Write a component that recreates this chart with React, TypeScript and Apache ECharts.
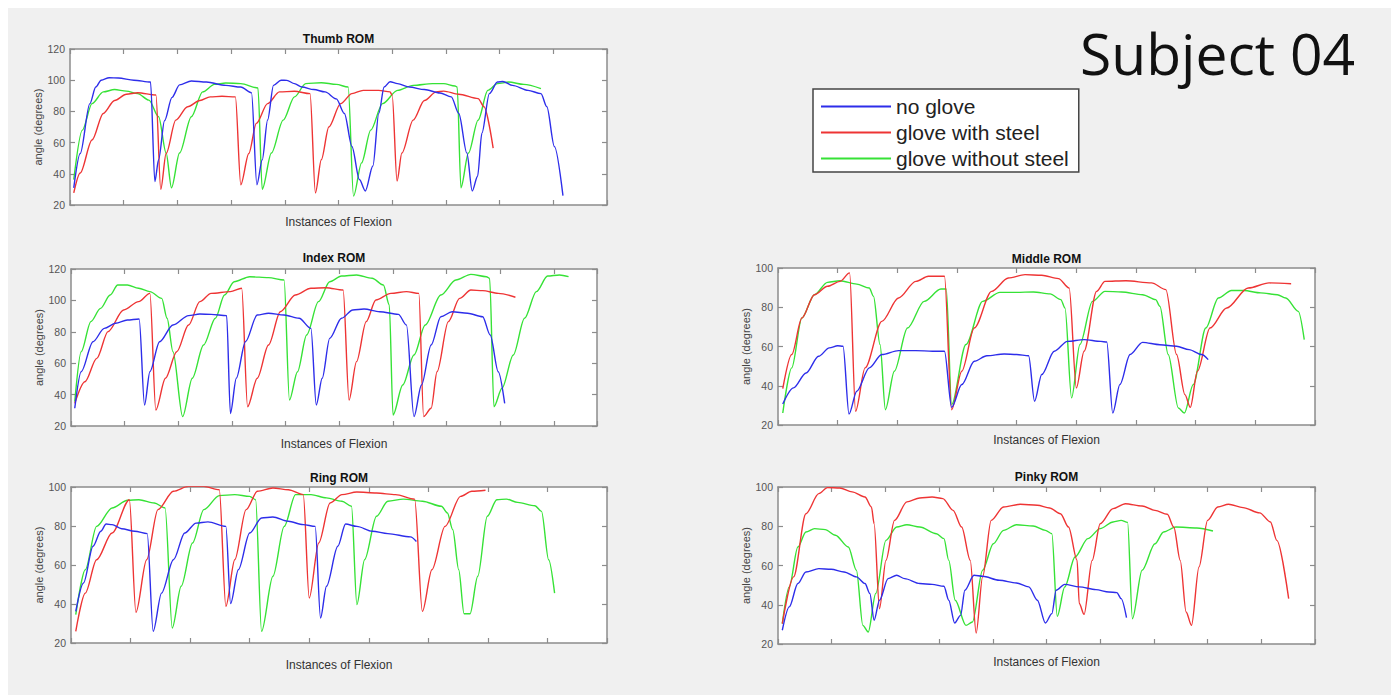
import React, { useEffect, useRef } from "react";
import * as echarts from "echarts";

// ---------- data (x = instance position, y = angle in degrees) ----------
const seriesNames = ["no glove", "glove with steel", "glove without steel"];
const seriesColors = ["#2d2dea", "#ee3434", "#36e236"];

const thumbNoGlove: number[][] = [[0.07,31],[0.19,53],[0.37,85],[0.48,95.6],[0.58,100],[0.73,101.6],[0.9,101.4],[1.19,100],[1.5,98.8],[1.58,35],[1.65,49],[1.76,74],[1.9,89],[2.04,97],[2.26,99.5],[2.54,98.8],[2.9,96.7],[3.18,95.6],[3.38,92],[3.48,33],[3.58,49],[3.68,74.5],[3.79,96.7],[3.93,100],[4.04,99.9],[4.18,97.8],[4.32,95.6],[4.54,94],[4.75,92.5],[4.96,88],[5.11,78.7],[5.25,57.5],[5.39,36.3],[5.5,29],[5.64,45],[5.75,78.7],[5.85,95.6],[5.96,99],[6.1,97.8],[6.32,95.6],[6.6,94],[6.89,91.8],[7.1,89.3],[7.24,78.7],[7.39,53.3],[7.49,29],[7.59,38.4],[7.67,66],[7.81,91.4],[7.96,98.8],[8.06,99.2],[8.24,96.7],[8.53,93.5],[8.77,91.4],[8.88,83],[9.02,57.5],[9.18,26]];
const thumbWithSteel: number[][] = [[0.07,27.8],[0.19,40.5],[0.41,61.7],[0.62,78.7],[0.83,87],[1.05,91],[1.26,92],[1.6,90.5],[1.69,30],[1.79,53],[1.97,74.4],[2.19,83],[2.42,87],[2.61,89.3],[2.83,89.7],[3.08,89.3],[3.18,33],[3.33,53],[3.47,72.3],[3.68,85],[3.9,92.5],[4.18,92.9],[4.47,91.4],[4.57,27.8],[4.68,49],[4.82,70],[5.04,85],[5.25,91.4],[5.46,93.5],[5.75,93.5],[5.96,92.5],[6.0,90.3],[6.09,35.3],[6.18,53.3],[6.39,74.4],[6.6,87],[6.82,92.5],[6.96,93],[7.24,91],[7.6,88.2],[7.71,83],[7.88,56.4]];
const thumbWithoutSteel: number[][] = [[0.07,36.3],[0.23,68],[0.41,85],[0.62,92.5],[0.83,94],[1.05,93],[1.26,91.4],[1.47,87.2],[1.65,76.6],[1.79,53.3],[1.89,31],[2.04,53.3],[2.26,76.6],[2.47,92.5],[2.69,97.3],[2.9,98.2],[3.18,97.8],[3.5,95],[3.58,30],[3.75,53.3],[3.97,74.4],[4.18,89.3],[4.39,97.8],[4.68,98.4],[4.96,97.3],[5.18,95.6],[5.28,25.7],[5.43,47],[5.6,68],[5.82,85],[6.1,93.5],[6.39,96.7],[6.75,97.8],[6.96,97.8],[7.17,96.3],[7.21,95.6],[7.28,31],[7.42,53.3],[7.6,74.4],[7.78,93.5],[7.96,97.8],[8.17,98.8],[8.45,97.3],[8.77,94.6]];

const indexNoGlove: number[][] = [[0.07,31.3],[0.19,54.6],[0.41,73.7],[0.62,82.2],[0.83,85.4],[1.05,87.5],[1.27,88.2],[1.37,33.4],[1.47,54.6],[1.65,73.7],[1.9,84.3],[2.19,90.3],[2.4,91.3],[2.61,91.1],[2.9,90.3],[2.97,28],[3.08,50.4],[3.25,73.7],[3.47,90.7],[3.68,91.8],[3.97,90.7],[4.25,88.6],[4.47,82.2],[4.57,33.4],[4.68,50.4],[4.82,75.8],[5.04,88.6],[5.25,93.9],[5.46,94.5],[5.75,92.8],[6.1,91.1],[6.25,84.3],[6.39,26],[6.53,46.1],[6.71,71.6],[6.89,89.6],[7.1,92.8],[7.39,91.8],[7.67,89.6],[7.81,78],[7.96,54.6],[8.08,34.4]];
const indexWithSteel: number[][] = [[0.07,34.4],[0.26,48.2],[0.48,63.1],[0.69,80.1],[0.98,93.9],[1.26,99.2],[1.47,104.5],[1.58,30.2],[1.76,50.4],[1.97,67.3],[2.19,84.3],[2.4,99.2],[2.61,104.5],[2.97,105.6],[3.18,107.7],[3.29,32.3],[3.47,50.4],[3.68,71.6],[3.9,92.8],[4.18,103.4],[4.47,107.7],[4.75,108.1],[5.07,106.6],[5.18,36.6],[5.32,61],[5.5,86.5],[5.68,100.3],[5.96,104.5],[6.25,105.6],[6.48,104.5],[6.57,26],[6.71,31.3],[6.82,54.6],[7.03,86.5],[7.24,101.3],[7.45,106.6],[7.67,106.2],[7.96,104.5],[8.28,102]];
const indexWithoutSteel: number[][] = [[0.07,35.5],[0.19,67.3],[0.37,86.5],[0.55,94.9],[0.73,103.4],[0.87,109.8],[1.05,109.8],[1.26,107.7],[1.47,105.6],[1.69,101.3],[1.79,88.6],[1.9,67.3],[2.08,26],[2.26,50.4],[2.47,71.6],[2.69,88.6],[2.86,103.4],[3.04,111.9],[3.33,115.1],[3.68,114.5],[3.97,113],[4.07,36.6],[4.22,54.6],[4.39,78],[4.61,99.2],[4.82,111.9],[5.04,115.5],[5.32,116.2],[5.61,114.1],[5.82,109.8],[5.93,97.1],[6.0,27],[6.18,46.1],[6.39,65.2],[6.6,84.3],[6.89,103.4],[7.17,113],[7.45,116.6],[7.74,115.1],[7.8,114],[7.88,32.3],[8.03,44],[8.24,65.2],[8.45,88.6],[8.67,105.6],[8.88,115.5],[9.1,116.2],[9.27,115.1]];

const middleNoGlove: number[][] = [[0.08,30.7],[0.26,38.9],[0.47,46.5],[0.68,55],[0.86,59.3],[1.0,60.4],[1.09,60.1],[1.19,25.6],[1.32,37.2],[1.53,49.1],[1.74,55.9],[2.02,57.9],[2.31,57.9],[2.59,57.6],[2.79,57.6],[2.91,29],[3.08,40.6],[3.29,52.5],[3.5,55.3],[3.79,56.2],[4.0,55.9],[4.2,55.3],[4.3,32.1],[4.42,45.7],[4.63,57.6],[4.85,62.6],[5.13,63.5],[5.41,62.6],[5.51,62.3],[5.61,26.1],[5.73,40.6],[5.9,55.9],[6.11,62.1],[6.4,60.9],[6.68,60.1],[6.89,58.4],[7.1,55.9],[7.21,53.3]];
const middleWithSteel: number[][] = [[0.08,38.5],[0.23,55.9],[0.4,74.5],[0.61,86.4],[0.83,90.7],[1.04,93.2],[1.2,97.5],[1.3,27],[1.46,49.1],[1.74,72.8],[2.02,84.7],[2.31,93.2],[2.52,95.8],[2.79,95.8],[2.91,27.8],[3.08,47.4],[3.29,69.4],[3.58,88.1],[3.86,94.9],[4.14,96.6],[4.42,96.3],[4.7,94.6],[4.88,89.8],[5.0,38.9],[5.13,57.6],[5.34,88.1],[5.48,93.2],[5.83,93.5],[6.26,92.4],[6.5,89],[6.68,55.9],[6.82,35.5],[6.91,29],[7.03,47.4],[7.24,69.4],[7.52,79.6],[7.88,89.8],[8.23,92.4],[8.6,92]];
const middleWithoutSteel: number[][] = [[0.08,26.1],[0.23,49.1],[0.4,74.5],[0.61,86.4],[0.83,92.7],[1.04,93.5],[1.32,91.8],[1.53,89.8],[1.6,85.6],[1.71,61],[1.8,27.8],[1.95,47.4],[2.17,69.4],[2.45,83],[2.73,89.3],[2.82,89.3],[2.91,30.4],[3.15,61],[3.43,83],[3.72,87.6],[4.0,87.6],[4.28,87.8],[4.56,86.8],[4.74,83.9],[4.81,79.6],[4.92,33.8],[5.06,61],[5.27,83],[5.48,88.1],[5.76,87.8],[6.11,86.4],[6.33,83.9],[6.4,80.5],[6.54,55.9],[6.71,28.7],[6.81,26.1],[6.96,40.6],[7.17,69.4],[7.38,84.7],[7.6,88.5],[7.81,88.5],[8.09,87.3],[8.37,86.4],[8.51,84.7],[8.72,77.9],[8.82,63.5]];

const ringNoGlove: number[][] = [[0.08,36.2],[0.21,50.8],[0.37,69.6],[0.5,77.3],[0.59,81],[0.69,80.7],[0.85,78.6],[1.07,77.3],[1.28,76.1],[1.38,26],[1.52,45.6],[1.72,62.7],[1.91,76.4],[2.1,81.5],[2.3,82.1],[2.6,79.8],[2.68,40.2],[2.81,57.6],[3.0,76.4],[3.2,84.1],[3.39,84.6],[3.65,82.4],[3.9,80.7],[4.1,79.8],[4.19,32.8],[4.29,49.1],[4.48,69.6],[4.61,81],[4.8,79.8],[5.06,77.3],[5.32,76.1],[5.7,74.4],[5.8,72.1]];
const ringWithSteel: number[][] = [[0.08,26],[0.24,45.6],[0.43,62.7],[0.69,76.4],[0.98,93.5],[1.09,35.7],[1.27,62.7],[1.46,88.4],[1.72,97.8],[1.97,100.3],[2.23,100.3],[2.49,98.6],[2.6,38.8],[2.75,62.7],[2.94,88.4],[3.13,97.8],[3.39,99.5],[3.65,98.6],[3.9,96.1],[4.0,43.1],[4.16,71.3],[4.35,91.8],[4.55,96.1],[4.8,97.4],[5.13,96.9],[5.45,96.1],[5.77,93.8],[5.9,36.2],[6.06,57.6],[6.28,79.8],[6.54,95.2],[6.73,97.8],[6.96,98.3]];
const ringWithoutSteel: number[][] = [[0.08,34.5],[0.24,57.6],[0.43,79.8],[0.69,89.2],[0.95,93.2],[1.14,93.5],[1.4,91.8],[1.58,89.2],[1.7,27.7],[1.85,49.1],[2.04,71.3],[2.23,88.4],[2.49,95.6],[2.75,96.1],[3.0,95.2],[3.1,93.5],[3.2,26],[3.39,54.2],[3.58,79.8],[3.77,96.1],[4.03,96.1],[4.29,94.4],[4.55,92.7],[4.71,90.1],[4.8,39.7],[4.93,62.7],[5.13,85],[5.32,92.7],[5.58,93.8],[5.9,92.7],[6.22,90.1],[6.32,86.7],[6.41,78.1],[6.51,57.6],[6.6,35],[6.7,35],[6.83,54.2],[6.99,85],[7.15,93.5],[7.31,93.8],[7.5,92.1],[7.79,90.4],[7.9,87.5],[8.02,62.7],[8.12,45.6]];

const pinkyNoGlove: number[][] = [[0.08,27],[0.21,38.9],[0.37,50.8],[0.52,56.7],[0.76,58.4],[0.99,58.1],[1.23,56.7],[1.46,54.2],[1.62,50.8],[1.71,45.7],[1.79,32.1],[1.89,42.3],[2.05,53.3],[2.21,55],[2.36,53.3],[2.64,50.8],[2.87,50.4],[3.09,49.4],[3.18,42.3],[3.29,30.7],[3.4,34.6],[3.48,47.4],[3.65,55],[3.81,54.5],[4.12,52.5],[4.44,51.1],[4.67,49.1],[4.83,42.3],[4.98,30.7],[5.1,35.5],[5.18,47.4],[5.34,50.4],[5.61,49.1],[5.92,47.7],[6.16,46.5],[6.31,46.2],[6.39,43.1],[6.49,33.4]];
const pinkyWithSteel: number[][] = [[0.08,30.4],[0.29,54.2],[0.52,86.4],[0.76,96.6],[0.92,99.7],[1.15,99.5],[1.38,97.5],[1.62,94.9],[1.74,89.8],[1.79,81.3],[1.89,38],[2.01,62.6],[2.17,83],[2.4,92.4],[2.64,94.4],[2.87,94.9],[3.07,94.1],[3.26,88.1],[3.42,79.6],[3.58,62.6],[3.69,25.6],[3.81,54.2],[3.97,83],[4.2,89.8],[4.51,91.2],[4.83,90.7],[5.06,89.3],[5.26,86.4],[5.41,79.6],[5.57,62.6],[5.61,40.6],[5.7,35.1],[5.85,62.6],[6.0,81.3],[6.24,89],[6.47,91.5],[6.78,90.3],[7.02,88.1],[7.25,86.1],[7.37,79.6],[7.49,62.6],[7.6,36.3],[7.7,29.5],[7.84,59.3],[8.0,83],[8.19,89.8],[8.39,91.2],[8.66,89.5],[8.97,86.8],[9.17,82.2],[9.29,72.8],[9.51,43.1]];
const pinkyWithoutSteel: number[][] = [[0.08,30.4],[0.21,49.1],[0.37,69.4],[0.52,77.1],[0.68,78.8],[0.88,78.3],[1.07,75.4],[1.31,69.4],[1.46,57.6],[1.58,29.5],[1.68,26.1],[1.82,45.7],[2.01,72.8],[2.21,79.6],[2.4,80.8],[2.64,79.6],[2.95,76.2],[3.09,73.7],[3.18,62.6],[3.3,42.3],[3.5,29.5],[3.62,31.2],[3.81,57.6],[4.01,71.1],[4.2,77.9],[4.44,80.8],[4.75,80.1],[4.98,77.9],[5.1,76.2],[5.2,34.1],[5.34,49.1],[5.53,64.3],[5.77,73.7],[6.0,78.8],[6.24,82.2],[6.39,83],[6.51,82],[6.6,32.9],[6.78,57.6],[7.02,71.1],[7.18,77.1],[7.41,79.6],[7.8,79.1],[8.1,77.6]];

const titles = ["Thumb ROM", "Index ROM", "Middle ROM", "Ring ROM", "Pinky ROM"];
const xMaxes = [10, 9.8, 9, 9, 10];
const yMaxes = [120, 120, 100, 100, 100];
const yTicks = [20, 40, 60, 80, 100, 120];
const xLabel = "Instances of Flexion";
const yLabel = "angle (degrees)";
const headline = "Subject 04";

const panelData = [
  [thumbNoGlove, thumbWithSteel, thumbWithoutSteel],
  [indexNoGlove, indexWithSteel, indexWithoutSteel],
  [middleNoGlove, middleWithSteel, middleWithoutSteel],
  [ringNoGlove, ringWithSteel, ringWithoutSteel],
  [pinkyNoGlove, pinkyWithSteel, pinkyWithoutSteel],
];

// ---------- layout ----------
const grids = [
  { left: 62, top: 41, width: 537, height: 156 },
  { left: 63, top: 261, width: 526, height: 157 },
  { left: 770, top: 260, width: 537, height: 157 },
  { left: 63, top: 479, width: 536, height: 156 },
  { left: 770, top: 479, width: 537, height: 157 },
];
const titleY = [31, 250, 251, 470, 469];
const xNameGaps = [11, 12, 9, 16, 12];

const FONT = "Liberation Sans, Arial, Helvetica, sans-serif";
const frame = "#8c8c8c";
const legendLineIcon = "path://M0,0H70V2H0Z";

export default function App() {
  const ref = useRef<HTMLDivElement>(null);
  useEffect(() => {
    if (!ref.current) return;
    const chart = echarts.init(ref.current, undefined, { renderer: "svg" });

    const xAxis: any[] = [];
    const yAxis: any[] = [];
    const series: any[] = [];
    const graphic: any[] = [];

    grids.forEach((g, i) => {
      const common = {
        gridIndex: i,
        type: "value",
        min: 0,
        max: xMaxes[i],
        interval: 1,
        axisLine: { show: true, onZero: false, lineStyle: { color: frame, width: 1.5 } },
        axisTick: { show: true, inside: true, length: 5, lineStyle: { color: frame, width: 1.2 } },
        axisLabel: { show: false },
        splitLine: { show: false },
      };
      xAxis.push({
        ...common,
        position: "bottom",
        name: xLabel,
        nameLocation: "middle",
        nameGap: xNameGaps[i],
        nameTextStyle: { fontFamily: FONT, fontSize: 12, color: "#333" },
      });
      xAxis.push({ ...common, position: "top" });
      const ycommon = {
        gridIndex: i,
        type: "value",
        min: 20,
        max: yMaxes[i],
        interval: 20,
        axisLine: { show: true, onZero: false, lineStyle: { color: frame, width: 1.5 } },
        axisTick: { show: true, inside: true, length: 5, lineStyle: { color: frame, width: 1.2 } },
        splitLine: { show: false },
      };
      yAxis.push({
        ...ycommon,
        position: "left",
        axisLabel: {
          show: true,
          margin: 5,
          fontFamily: FONT,
          fontSize: 10.5,
          color: "#555",
          formatter: (v: number) => (yTicks.includes(v) ? String(v) : ""),
        },
        name: yLabel,
        nameLocation: "middle",
        nameRotate: 90,
        nameGap: 27,
        nameTextStyle: { fontFamily: FONT, fontSize: 11, color: "#444" },
      });
      yAxis.push({ ...ycommon, position: "right", axisLabel: { show: false } });

      panelData[i].forEach((d, k) => {
        series.push({
          type: "line",
          name: seriesNames[k],
          xAxisIndex: 2 * i,
          yAxisIndex: 2 * i,
          data: d,
          symbol: "none",
          showSymbol: false,
          smooth: 0.3,
          smoothMonotone: "x",
          lineStyle: { color: seriesColors[k], width: 1.4 },
          itemStyle: { color: seriesColors[k] },
          emphasis: { disabled: true },
          z: 3 - k,
        });
      });

      graphic.push({
        type: "text",
        x: g.left + g.width / 2,
        y: titleY[i],
        style: {
          text: titles[i],
          fontFamily: FONT,
          fontSize: 12,
          fontWeight: "bold",
          fill: "#111",
          align: "center",
          verticalAlign: "middle",
          textAlign: "center",
          textVerticalAlign: "middle",
        },
      });
    });

    graphic.push({
      type: "text",
      x: 1072,
      y: 45,
      style: {
        text: headline,
        fontFamily: "Open Sans, Noto Sans, sans-serif",
        fontSize: 57,
        fill: "#111",
        align: "left",
        verticalAlign: "middle",
        textAlign: "left",
        textVerticalAlign: "middle",
      },
    });

    chart.setOption({
      animation: false,
      backgroundColor: "#f0f0f0",
      grid: grids.map((g) => ({ ...g, show: true, backgroundColor: "#ffffff", borderWidth: 0, containLabel: false })),
      xAxis,
      yAxis,
      series,
      graphic,
      legend: {
        show: true,
        data: seriesNames.map((n, k) => ({ name: n, icon: legendLineIcon, itemStyle: { color: seriesColors[k] } })),
        icon: legendLineIcon,
        orient: "vertical",
        left: 805,
        top: 81,
        backgroundColor: "#ffffff",
        borderColor: "#444",
        borderWidth: 1.5,
        borderRadius: 0,
        padding: [7, 10, 3, 8],
        itemWidth: 70,
        itemHeight: 21,
        itemGap: 5,
        selectedMode: false,
        textStyle: { fontFamily: FONT, fontSize: 21, color: "#222" },
      },
    });
    return () => chart.dispose();
  }, []);

  return (
    <div
      ref={ref}
      style={{ position: "absolute", left: 8, top: 8, width: 1383, height: 687, background: "#f0f0f0" }}
    />
  );
}
